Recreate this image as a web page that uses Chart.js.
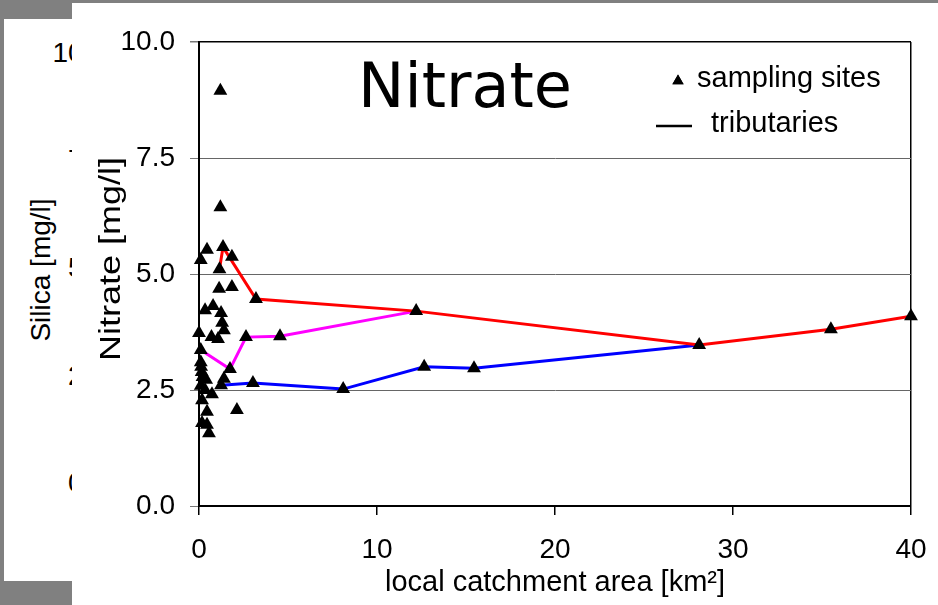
<!DOCTYPE html>
<html>
<head>
<meta charset="utf-8">
<script src="https://cdn.jsdelivr.net/npm/chart.js@4.4.1/dist/chart.umd.min.js"></script>
<style>
  html, body { margin: 0; padding: 0; }
  body { width: 938px; height: 605px; background: #808080; position: relative; overflow: hidden;
         font-family: 'Liberation Sans', Arial, sans-serif; }
  #back { position: absolute; left: 4px; top: 19px; width: 400px; height: 562px; background: #fff; }
  #back .tick { position: absolute; right: 297px; font-size: 28px; line-height: 28px; color: #000; white-space: nowrap; }
  #back .title { position: absolute; left: 37px; top: 251px; font-size: 28px; line-height: 28px; color: #000;
                 white-space: nowrap; transform: translate(-50%, -50%) rotate(-90deg); }
  #front { position: absolute; left: 72px; top: 3px; width: 866px; height: 602px; background: #fff; }
  #c { display: block; }
</style>
</head>
<body>
<div id="back">
  <div class="title">Silica [mg/l]</div>
  <div class="tick" style="top:20px">10.0</div>
  <div class="tick" style="top:127px">7.5</div>
  <div class="tick" style="top:235px">5.0</div>
  <div class="tick" style="top:343px">2.5</div>
  <div class="tick" style="top:450px">0.0</div>
</div>
<div id="front">
  <canvas id="c" width="866" height="602"></canvas>
</div>
<script>
// Sampling sites: local catchment area (km²) and nitrate (mg/l)
const siteArea = [1.2, 1.2, 0.1, 0.45, 1.35, 1.85, 1.15, 1.13, 1.85, 3.2,
                  0.34, 0.79, 1.24, 1.3, 1.4, 0.0, 0.7, 1.07, 2.64, 4.55,
                  0.1, 0.1, 0.12, 0.15, 0.2, 0.4, 1.4, 1.74, 1.24, 0.1,
                  0.34, 0.73, 0.17, 0.45, 2.13, 0.17, 0.45, 0.56, 3.03, 8.1,
                  12.65, 15.45, 12.2, 28.1, 35.5, 40.0];
const siteNitrate = [8.95, 6.44, 5.3, 5.52, 5.58, 5.37, 5.1, 4.68, 4.72, 4.46,
                     4.22, 4.31, 4.16, 3.95, 3.79, 3.73, 3.64, 3.6, 3.64, 3.66,
                     3.36, 3.1, 3.0, 2.89, 2.78, 2.72, 2.74, 2.95, 2.6, 2.59,
                     2.5, 2.41, 2.28, 2.03, 2.07, 1.79, 1.75, 1.57, 2.65, 2.52,
                     3.0, 2.97, 4.2, 3.47, 3.81, 4.09];

// Tributary courses
const redArea = [1.15, 1.35, 3.2, 12.2, 28.1, 35.5, 40.0];
const redNitrate = [5.1, 5.58, 4.46, 4.2, 3.47, 3.81, 4.09];
const magentaArea = [0.1, 1.74, 2.64, 4.55, 12.2];
const magentaNitrate = [3.36, 2.95, 3.64, 3.66, 4.2];
const blueArea = [1.24, 3.03, 8.1, 12.65, 15.45, 28.1];
const blueNitrate = [2.6, 2.65, 2.52, 3.0, 2.97, 3.47];

// Axis ticks
const xTicks = [0, 10, 20, 30, 40];
const yTickLabels = ['0.0', '2.5', '5.0', '7.5', '10.0'];

const chartTitle = 'Nitrate';
const yTitle = 'Nitrate [mg/l]';
const xTitle = 'local catchment area [km²]';
const legendSites = 'sampling sites';
const legendTributaries = 'tributaries';

const pts = (xs, ys) => xs.map((x, i) => ({ x: x, y: ys[i] }));
const FONT = "'Liberation Sans', Arial, sans-serif";

const overlay = {
  id: 'overlay',
  afterDraw(chart) {
    const ctx = chart.ctx;
    const area = chart.chartArea;
    ctx.save();
    ctx.fillStyle = '#000';
    ctx.textBaseline = 'middle';
    // chart heading
    ctx.font = "62px 'DejaVu Sans', Verdana, sans-serif";
    ctx.textAlign = 'center';
    ctx.fillText(chartTitle, 393, 88);
    // vertical axis caption, set in a stretched face
    ctx.save();
    ctx.translate(40, (area.top + area.bottom) / 2 - 15);
    ctx.rotate(-Math.PI / 2);
    ctx.scale(1.2, 1);
    ctx.font = '30px ' + FONT;
    ctx.fillText(yTitle, 0, 0);
    ctx.restore();
    // key
    ctx.font = '29px ' + FONT;
    ctx.textAlign = 'left';
    Chart.helpers.drawPoint(ctx, { pointStyle: 'triangle', radius: 6.5, borderWidth: 0 }, 606, 78);
    ctx.fill();
    ctx.fillText(legendSites, 625, 76);
    ctx.strokeStyle = '#000';
    ctx.lineWidth = 2.5;
    ctx.beginPath();
    ctx.moveTo(584, 123);
    ctx.lineTo(620, 123);
    ctx.stroke();
    ctx.fillText(legendTributaries, 639, 121);
    ctx.restore();
  }
};

new Chart(document.getElementById('c'), {
  type: 'scatter',
  data: {
    datasets: [
      { label: legendSites, data: pts(siteArea, siteNitrate), pointStyle: 'triangle', pointRadius: 8,
        pointHoverRadius: 8, backgroundColor: '#000', borderColor: '#000', borderWidth: 0,
        showLine: false, order: 0, clip: false },
      { label: 'red', data: pts(redArea, redNitrate), showLine: true, borderColor: '#ff0000',
        borderWidth: 3, pointRadius: 0, tension: 0, order: 1 },
      { label: 'magenta', data: pts(magentaArea, magentaNitrate), showLine: true, borderColor: '#ff00ff',
        borderWidth: 3, pointRadius: 0, tension: 0, order: 2 },
      { label: 'blue', data: pts(blueArea, blueNitrate), showLine: true, borderColor: '#0000ff',
        borderWidth: 3, pointRadius: 0, tension: 0, order: 3 }
    ]
  },
  options: {
    responsive: false,
    animation: false,
    events: [],
    layout: { padding: { top: 39, right: 27, left: 0, bottom: 0 } },
    plugins: { legend: { display: false }, tooltip: { enabled: false } },
    scales: {
      x: {
        type: 'linear', min: 0, max: 40,
        afterFit: s => { s.height = 99; s.paddingLeft = 0; s.paddingRight = 0; },
        afterBuildTicks: s => { s.ticks = xTicks.map(v => ({ value: v })); },
        ticks: { color: '#000', font: { family: FONT, size: 28 }, padding: 18, maxRotation: 0 },
        grid: {
          color: c => (c.tick && c.tick.value === 40 ? '#000' : 'rgba(0,0,0,0)'),
          lineWidth: 1.5, tickColor: '#000', tickLength: 9, drawTicks: true
        },
        border: { display: true, color: '#000', width: 2 },
        title: { display: true, text: xTitle, color: '#000',
                 font: { family: FONT, size: 29 }, padding: { top: 0, bottom: 5 } }
      },
      y: {
        type: 'linear', min: 0, max: 10,
        afterFit: s => { s.width = 127; s.paddingTop = 0; s.paddingBottom = 0; },
        ticks: { stepSize: 2.5, color: '#000', font: { family: FONT, size: 28 }, padding: 15,
                 callback: (v, i) => yTickLabels[i] },
        grid: {
          color: c => (c.tick && c.tick.value === 10 ? '#000' : '#666'),
          lineWidth: c => (c.tick && c.tick.value === 10 ? 1.5 : 1),
          tickColor: '#777', tickLength: 9
        },
        border: { display: true, color: '#000', width: 2 },
        title: { display: false }
      }
    }
  },
  plugins: [overlay]
});
</script>
</body>
</html>
